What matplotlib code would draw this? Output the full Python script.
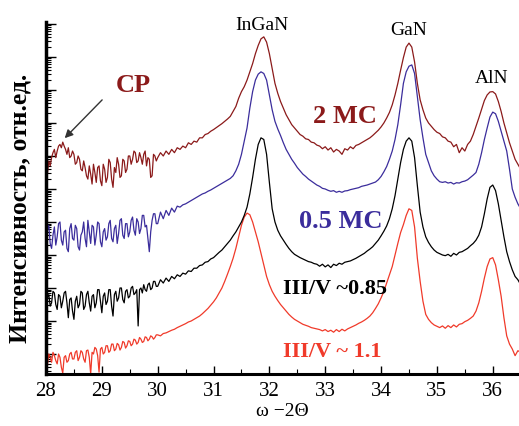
import numpy as np
import matplotlib
matplotlib.use("Agg")
import matplotlib.pyplot as plt
from matplotlib.ticker import LogLocator, NullFormatter, MultipleLocator

plt.rcParams['font.family'] = ['Liberation Serif', 'DejaVu Serif']

# omega-2theta grid, deg: finer step in the noisy low-angle part
two_theta = np.round(np.concatenate([np.arange(28.0, 29.99, 0.025),
                                     np.arange(30.0, 36.501, 0.05)]), 3)

# log10 intensity (arb. units)
mc_2 = [
    # 28.0 - 29.975, step 0.025
    5.60, 5.45, 5.85, 5.70, 5.95, 6.10, 6.20, 5.95, 6.15, 6.30, 6.35, 6.25, 6.42, 6.30, 6.20, 6.05, 6.25, 5.95, 6.00, 6.15,
    6.05, 5.75, 5.80, 6.00, 5.90, 5.60, 5.55, 5.85, 5.65, 5.40, 5.30, 5.70, 5.45, 5.15, 5.75, 5.50, 5.20, 5.65, 5.70, 5.25,
    5.10, 5.75, 5.60, 5.20, 5.35, 5.90, 5.80, 5.30, 5.05, 5.65, 5.50, 5.95, 5.75, 5.35, 5.40, 5.90, 5.85, 5.50, 5.60, 6.00,
    6.00, 5.75, 5.90, 6.15, 6.10, 5.80, 5.85, 6.10, 5.95, 5.75, 6.05, 6.15, 5.70, 5.95, 5.90, 5.35, 5.40, 6.05, 6.00, 5.85,
    # 30.0 - 36.5, step 0.05
    5.95, 6.10, 6.00, 6.15, 6.05, 6.20, 6.10, 6.25, 6.20, 6.30,
    6.25, 6.40, 6.35, 6.45, 6.42, 6.55, 6.55, 6.65, 6.68, 6.75,
    6.80, 6.86, 6.92, 6.98, 7.05, 7.12, 7.20, 7.35, 7.50, 7.75,
    7.95, 8.10, 8.30, 8.55, 8.80, 9.10, 9.35, 9.55, 9.61, 9.45,
    9.10, 8.65, 8.20, 7.90, 7.65, 7.45, 7.25, 7.10, 6.95, 6.85,
    6.75, 6.65, 6.60, 6.52, 6.50, 6.42, 6.40, 6.33, 6.30, 6.22,
    6.28, 6.18, 6.25, 6.12, 6.20, 6.15, 6.05, 6.22, 6.18, 6.28,
    6.22, 6.32, 6.35, 6.40, 6.45, 6.50, 6.55, 6.62, 6.70, 6.78,
    6.88, 7.00, 7.15, 7.32, 7.55, 7.85, 8.20, 8.60, 8.98, 9.30,
    9.42, 9.30, 8.85, 8.20, 7.70, 7.40, 7.15, 7.00, 6.90, 6.80,
    6.72, 6.68, 6.58, 6.55, 6.45, 6.42, 6.28, 6.35, 6.10, 6.25,
    6.15, 6.35, 6.45, 6.65, 6.90, 7.15, 7.42, 7.68, 7.85, 7.94,
    7.95, 7.88, 7.65, 7.35, 7.00, 6.70, 6.40, 6.15, 5.90, 5.75,
    5.60,
]

mc_05 = [
    3.40, 3.75, 3.90, 3.35, 3.20, 3.60, 3.85, 3.30, 3.55, 3.95, 4.00, 3.45, 3.30, 3.70, 3.75, 3.20, 3.10, 3.80, 3.95, 3.50,
    3.45, 3.90, 3.80, 3.25, 3.15, 3.60, 3.70, 4.00, 3.50, 3.25, 4.05, 3.70, 3.35, 3.90, 3.85, 3.30, 3.60, 4.00, 3.95, 3.40,
    3.25, 3.70, 3.80, 3.45, 3.55, 3.95, 4.05, 3.50, 3.40, 3.80, 3.90, 3.35, 3.65, 4.05, 4.10, 3.60, 3.50, 3.95, 3.95, 3.55,
    3.70, 4.05, 4.15, 3.75, 3.60, 4.10, 4.00, 3.65, 3.80, 4.20, 4.20, 3.85, 3.90, 3.50, 3.10, 3.70, 4.05, 4.25, 4.25, 3.95,
    3.95, 4.30, 4.10, 4.35, 4.20, 4.42, 4.30, 4.48, 4.45, 4.52,
    4.55, 4.60, 4.65, 4.70, 4.75, 4.80, 4.85, 4.88, 4.93, 4.97,
    5.02, 5.07, 5.12, 5.17, 5.22, 5.27, 5.32, 5.40, 5.55, 5.75,
    6.05, 6.45, 6.85, 7.45, 7.95, 8.30, 8.48, 8.55, 8.50, 8.30,
    7.85, 7.40, 7.05, 6.82, 6.62, 6.40, 6.20, 6.05, 5.90, 5.78,
    5.65, 5.55, 5.45, 5.38, 5.30, 5.24, 5.18, 5.12, 5.08, 5.02,
    5.00, 4.96, 4.93, 4.95, 4.90, 4.93, 4.90, 4.94, 4.95, 4.98,
    5.00, 5.02, 5.04, 5.08, 5.10, 5.12, 5.15, 5.18, 5.21, 5.28,
    5.38, 5.52, 5.68, 5.90, 6.15, 6.50, 6.95, 7.55, 8.20, 8.55,
    8.72, 8.76, 8.50, 7.80, 7.10, 6.55, 6.05, 5.80, 5.55, 5.40,
    5.30, 5.22, 5.20, 5.22, 5.18, 5.20, 5.15, 5.19, 5.18, 5.22,
    5.24, 5.28, 5.35, 5.42, 5.50, 5.75, 6.10, 6.50, 6.85, 7.18,
    7.33, 7.28, 7.05, 6.75, 6.45, 6.15, 5.60, 5.00, 4.75, 4.55,
    4.40,
]

ratio_085 = [
    1.40, 1.70, 1.80, 1.45, 1.55, 1.90, 1.85, 1.50, 1.35, 1.80, 1.75, 1.40, 1.60, 1.85, 1.90, 1.55, 1.10, 1.65, 1.70, 1.30,
    1.05, 1.60, 1.75, 1.40, 1.50, 1.90, 1.85, 1.35, 1.45, 1.80, 1.90, 1.55, 1.30, 1.75, 1.80, 1.40, 1.55, 1.95, 1.95, 1.60,
    1.25, 1.75, 1.85, 1.50, 1.60, 1.95, 1.95, 1.45, 1.15, 1.80, 1.90, 1.60, 1.70, 2.00, 2.00, 1.65, 1.55, 1.90, 1.95, 1.70,
    1.75, 2.00, 2.05, 1.80, 1.85, 1.95, 0.85, 1.95, 2.00, 1.85, 2.10, 1.95, 1.90, 2.10, 2.15, 1.95, 2.00, 2.20, 2.20, 2.05,
    2.05, 2.25, 2.15, 2.30, 2.20, 2.35, 2.28, 2.40, 2.35, 2.45,
    2.42, 2.52, 2.50, 2.60, 2.60, 2.68, 2.70, 2.78, 2.80, 2.88,
    2.92, 3.00, 3.08, 3.15, 3.25, 3.35, 3.45, 3.58, 3.70, 3.85,
    4.00, 4.20, 4.45, 4.85, 5.35, 5.90, 6.35, 6.55, 6.50, 6.05,
    5.20, 4.40, 4.00, 3.75, 3.58, 3.45, 3.32, 3.20, 3.10, 3.02,
    2.97, 2.92, 2.88, 2.84, 2.80, 2.78, 2.74, 2.72, 2.66, 2.72,
    2.64, 2.70, 2.62, 2.72, 2.68, 2.75, 2.72, 2.78, 2.80, 2.82,
    2.86, 2.90, 2.95, 3.00, 3.05, 3.12, 3.18, 3.25, 3.35, 3.45,
    3.58, 3.72, 3.88, 4.10, 4.40, 4.80, 5.30, 5.80, 6.20, 6.45,
    6.55, 6.45, 5.95, 5.10, 4.30, 3.85, 3.55, 3.38, 3.25, 3.15,
    3.08, 3.04, 3.00, 2.98, 3.02, 2.96, 3.05, 3.00, 3.08, 3.10,
    3.15, 3.20, 3.28, 3.35, 3.45, 3.60, 3.85, 4.25, 4.70, 5.05,
    5.12, 4.95, 4.55, 4.05, 3.55, 3.10, 2.80, 2.55, 2.35, 2.25,
    2.10,
]

ratio_11 = [
    -0.15, -0.35, 0.00, -0.10, -0.25, 0.05, -0.05, -0.20, -0.30, 0.00, -0.10, -0.40, -0.58, -0.10, -0.05, -0.25, -0.20, 0.00, 0.05, -0.15,
    -0.15, 0.05, 0.10, -0.20, -0.10, 0.10, 0.05, -0.15, -0.25, 0.10, 0.12, -0.10, -0.60, 0.05, 0.00, 0.20, 0.15, -0.05, -0.55, 0.15,
    0.20, 0.00, 0.05, 0.25, 0.25, 0.05, 0.10, 0.30, 0.30, 0.10, 0.15, 0.32, 0.28, 0.12, 0.20, 0.38, 0.35, 0.18, 0.25, 0.40,
    0.38, 0.25, 0.30, 0.45, 0.42, 0.30, 0.35, 0.50, 0.45, 0.35, 0.38, 0.52, 0.50, 0.40, 0.45, 0.55, 0.52, 0.45, 0.50, 0.58,
    0.58, 0.55, 0.62, 0.64, 0.68, 0.72, 0.75, 0.80, 0.84, 0.88,
    0.92, 0.97, 1.00, 1.05, 1.10, 1.15, 1.22, 1.30, 1.38, 1.48,
    1.58, 1.70, 1.85, 2.00, 2.20, 2.42, 2.65, 2.90, 3.20, 3.55,
    3.90, 4.15, 4.27, 4.22, 4.00, 3.70, 3.40, 3.05, 2.70, 2.35,
    2.10, 1.90, 1.75, 1.62, 1.50, 1.40, 1.30, 1.20, 1.12, 1.05,
    1.00, 0.95, 0.90, 0.87, 0.84, 0.80, 0.78, 0.76, 0.74, 0.70,
    0.74, 0.68, 0.72, 0.66, 0.74, 0.68, 0.75, 0.70, 0.76, 0.80,
    0.84, 0.88, 0.93, 0.97, 1.02, 1.08, 1.15, 1.25, 1.38, 1.52,
    1.70, 1.90, 2.15, 2.40, 2.65, 3.00, 3.35, 3.68, 3.92, 4.20,
    4.40, 4.35, 3.85, 2.90, 2.20, 1.60, 1.20, 1.05, 0.95, 0.88,
    0.84, 0.80, 0.85, 0.78, 0.86, 0.80, 0.88, 0.82, 0.90, 0.92,
    0.98, 1.02, 1.08, 1.15, 1.30, 1.55, 1.90, 2.30, 2.65, 2.88,
    2.92, 2.70, 2.25, 1.75, 1.10, 0.55, 0.30, 0.15, -0.05, 0.10,
    0.05,
]

c_dred = '#8b1a1a'
c_blue = '#3b2d9c'
c_red = '#f03a2a'

fig = plt.figure(figsize=(5.19, 4.26), dpi=100)
ax = fig.add_axes([46 / 519, 1 - 374 / 426, 1 - 46 / 519, 352 / 426])

ax.plot(two_theta, 10 ** np.array(ratio_11), color=c_red, lw=0.9)
ax.plot(two_theta, 10 ** np.array(ratio_085), color='black', lw=0.9)
ax.plot(two_theta, 10 ** np.array(mc_05), color=c_blue, lw=0.9)
ax.plot(two_theta, 10 ** np.array(mc_2), color=c_dred, lw=0.9)

ax.set_yscale('log')
ax.set_xlim(28, 36.47)
ax.set_ylim(10 ** -0.606, 10 ** 10.06)

ax.yaxis.set_major_locator(LogLocator(base=10, numticks=30))
ax.yaxis.set_minor_locator(LogLocator(base=10, subs=np.arange(2, 10), numticks=300))
ax.yaxis.set_major_formatter(NullFormatter())
ax.yaxis.set_minor_formatter(NullFormatter())
ax.xaxis.set_major_locator(MultipleLocator(1))
ax.xaxis.set_minor_locator(MultipleLocator(0.5))

ax.spines['top'].set_visible(False)
ax.spines['right'].set_visible(False)
ax.spines['left'].set_linewidth(2.5)
ax.spines['bottom'].set_linewidth(2.2)
ax.tick_params(which='major', direction='in', length=6, width=1.0, labelsize=15, pad=6)
ax.tick_params(which='minor', direction='in', length=3.5, width=0.8)
ax.tick_params(axis='y', which='major', length=7)

# peak names
for label, x, lg in [('InGaN', 31.87, 9.82), ('GaN', 34.49, 9.67), ('AlN', 35.98, 8.21)]:
    ax.text(x, 10 ** lg, label, ha='center', va='baseline', fontsize=14, clip_on=False)

# series labels
ax.text(29.56, 10 ** 7.94, 'CP', color=c_dred, fontsize=19, fontweight='bold', ha='center', va='baseline')
ax.text(33.35, 10 ** 7.0, '2 MC', color=c_dred, fontsize=19, fontweight='bold', ha='center', va='baseline')
ax.text(33.27, 10 ** 3.82, '0.5 MC', color=c_blue, fontsize=19, fontweight='bold', ha='center', va='baseline')
ax.text(33.17, 10 ** 1.82, 'III/V ~0.85', color='black', fontsize=16, fontweight='bold', ha='center', va='baseline')
ax.text(33.13, 10 ** -0.09, 'III/V ~ 1.1', color=c_red, fontsize=16, fontweight='bold', ha='center', va='baseline')

ax.annotate('', xy=(28.30, 10 ** 6.48), xytext=(29.04, 10 ** 7.76),
            arrowprops=dict(arrowstyle='-|>', color='#333333', lw=1.0, mutation_scale=12))

ax.set_xlabel('ω −2Θ', fontsize=14, labelpad=1)
fig.text(20 / 519, 1 - 208 / 426, 'Интенсивность, отн.ед.', rotation=90,
         fontsize=18.5, fontweight='bold', ha='center', va='center')

fig.savefig('out.png', dpi=100)
